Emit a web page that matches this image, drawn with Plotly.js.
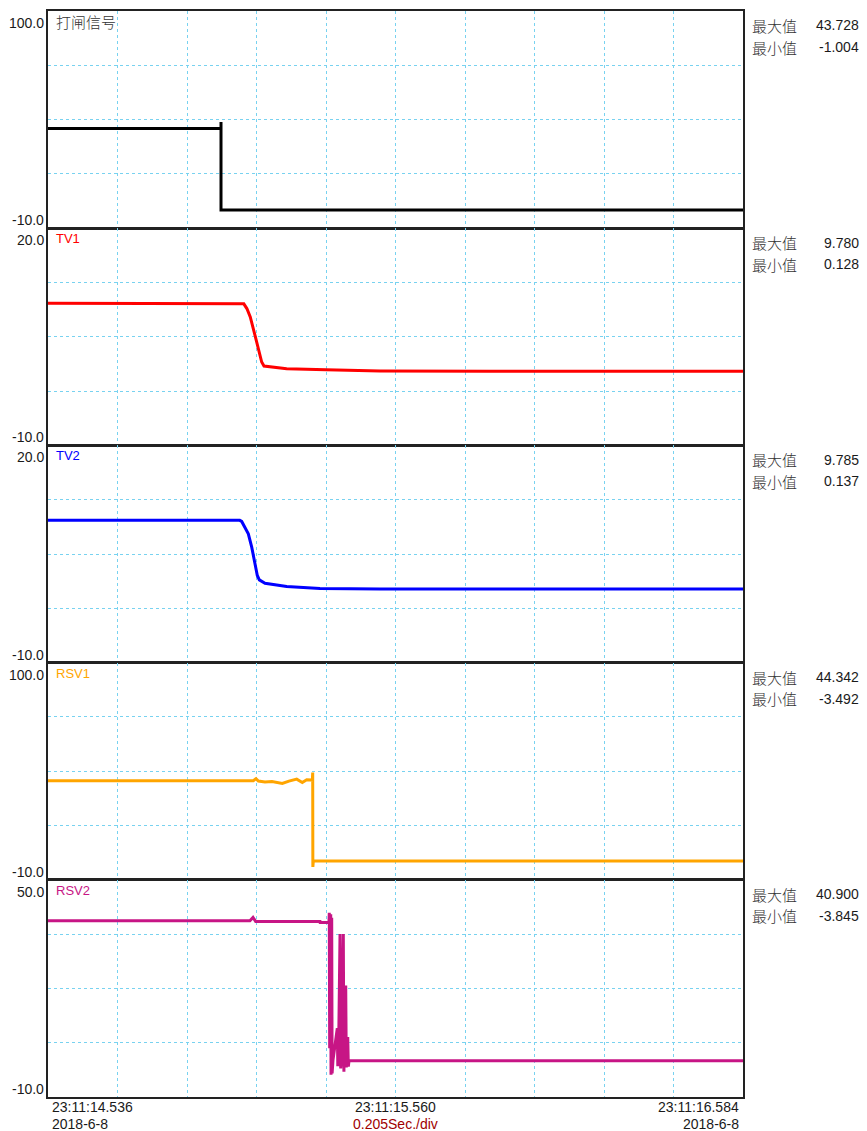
<!DOCTYPE html>
<html>
<head>
<meta charset="utf-8">
<script src="https://cdn.plot.ly/plotly-3.0.1.min.js"></script>
<style>html,body{margin:0;padding:0;background:#fff;}#chart{width:867px;height:1131px;}</style>
</head>
<body>
<div id="chart"></div>
<script>
// ---- data (time in seconds from 23:11:14.536) ----
const channelNames = ["打闸信号", "TV1", "TV2", "RSV1", "RSV2"];
const yMinVals = [-10, -10, -10, -10, -10];
const yMaxVals = [100, 20, 20, 100, 50];
const maxLabels = ["43.728", "9.780", "9.785", "44.342", "40.900"];
const minLabels = ["-1.004", "0.128", "0.137", "-3.492", "-3.845"];
const startTime = "23:11:14.536";
const midTime = "23:11:15.560";
const endTime = "23:11:16.584";
const dateLabel = "2018-6-8";
const divLabel = "0.205Sec./div";
const timeSpan = 2.048;

const tripT = [0, 0.5098, 0.5098, 0.5098, 2.048];
const tripV = [40.5, 40.5, 43.728, -0.8, -0.8];

const tv1T = [0, 0.5720, 0.5770, 0.5860, 0.5960, 0.6100, 0.6180, 0.6297, 0.6365, 0.6542, 0.7034, 0.8192, 0.9783, 1.3000, 2.048];
const tv1V = [9.65, 9.65, 9.55, 8.9, 7.74, 5.2, 3.59, 1.52, 0.96, 0.85, 0.6, 0.45, 0.28, 0.25, 0.24];

const tv2T = [0, 0.5650, 0.5708, 0.5903, 0.6003, 0.6100, 0.6168, 0.6227, 0.6395, 0.7034, 0.8015, 0.9783, 2.048];
const tv2V = [9.65, 9.65, 9.5, 7.79, 5.94, 3.87, 2.03, 1.43, 0.96, 0.51, 0.25, 0.18, 0.17];

const rsv1T = [0, 0.6050, 0.6129, 0.6200, 0.6394, 0.6600, 0.6904, 0.7100, 0.7329, 0.7494, 0.7623, 0.7741, 0.7790, 0.7800, 0.7805, 0.7812, 0.7818, 2.048];
const rsv1V = [40.2, 40.2, 41.2, 40.0, 39.5, 39.8, 38.8, 40.0, 41.0, 39.3, 40.7, 40.7, 40.5, 44.342, -3.492, 41.0, -0.5, -0.5];

const rsv2T = [0, 0.5950, 0.6041, 0.6120, 0.6250, 0.8015, 0.8020, 0.8280, 0.8289, 0.8300, 0.8331, 0.8340, 0.8360, 0.8372, 0.8398, 0.8525, 0.8540, 0.8560, 0.8605, 0.8625, 0.8650, 0.8702, 0.8720, 0.8737, 0.8773, 0.8790, 0.8802, 0.8832, 0.8850, 0.8870, 2.048];
const rsv2V = [38.7, 38.7, 39.6, 38.5, 38.5, 38.5, 38.2, 38.2, 40.9, 3.5, 40.5, -3.845, 39.5, -3.5, 0.2, 9.0, -1.5, 0.5, 35.0, -2.1, 1.0, 35.0, -3.0, 14.0, 20.8, -1.8, 0.5, 6.6, -1.6, 0.0, 0.0];

const seriesT = [tripT, tv1T, tv2T, rsv1T, rsv2T];
const seriesV = [tripV, tv1V, tv2V, rsv1V, rsv2V];
const colors = ["#000000", "#ff0000", "#0000ff", "#ffa500", "#c71585"];
const labelColors = ["#333333", "#ff0000", "#0000ff", "#ffa500", "#c71585"];

// ---- layout helpers ----
const W = 867, H = 1131, L = 48, R = 743, TOP = 11, BOT = 1097;
const px = x => (x - L) / (R - L);
const py = y => (BOT - y) / (BOT - TOP);
const panelH = (BOT - TOP) / 5;
const FONT = "Liberation Sans, Arial, Noto Sans CJK SC, sans-serif";
const CJK = "Noto Sans CJK SC, Liberation Sans, sans-serif";
const TXT = "#1a1a1a";

const xGrid = [];
for (let k = 0; k <= 10; k++) xGrid.push(timeSpan * k / 10);

const traces = [];
const layout = {
  width: W, height: H,
  margin: {l: L, r: W - R, t: TOP, b: H - BOT, pad: 0},
  paper_bgcolor: "#ffffff", plot_bgcolor: "#ffffff",
  showlegend: false,
  annotations: [],
  font: {family: FONT, size: 14, color: TXT}
};

function ann(x, y, text, anchor, font) {
  layout.annotations.push({xref: "paper", yref: "paper", x: px(x), y: py(y),
    xanchor: anchor, yanchor: "middle", text: text, showarrow: false, font: font});
}

for (let i = 0; i < 5; i++) {
  const n = i === 0 ? "" : String(i + 1);
  traces.push({
    x: seriesT[i], y: seriesV[i], mode: "lines",
    xaxis: "x" + n, yaxis: "y" + n,
    line: {color: colors[i], width: 3}, hoverinfo: "skip"
  });
  const lo = yMinVals[i], hi = yMaxVals[i];
  const yGrid = [0, 1, 2, 3, 4].map(k => lo + (hi - lo) * k / 4);
  const common = {
    showticklabels: false, ticks: "", showgrid: true,
    gridcolor: "#78d2f0", griddash: "dot", gridwidth: 1,
    showline: true, mirror: true, linecolor: "#222222", linewidth: 1.6,
    zeroline: false, fixedrange: true
  };
  layout["xaxis" + n] = Object.assign({}, common, {
    domain: [0, 1], anchor: "y" + n, range: [0, timeSpan], tickvals: xGrid
  });
  layout["yaxis" + n] = Object.assign({}, common, {
    domain: [1 - (i + 1) * 0.2, 1 - i * 0.2], anchor: "x" + n,
    range: [lo, hi], tickvals: yGrid
  });

  const top = TOP + i * panelH, bottom = TOP + (i + 1) * panelH;
  const f14 = {family: FONT, size: 14, color: TXT};
  const cjk = {family: CJK, size: 15, color: "#333333", weight: 300};
  ann(45.5, top + 12, hi.toFixed(1), "right", f14);
  ann(45.5, bottom - 8, lo.toFixed(1), "right", f14);
  ann(54, top + 10.5, channelNames[i], "left",
      i === 0 ? cjk : {family: FONT, size: 13, color: labelColors[i]});
  ann(750, top + 14.5, "最大值", "left", cjk);
  ann(750, top + 36, "最小值", "left", cjk);
  ann(861, top + 14.5, maxLabels[i], "right", f14);
  ann(861, top + 36, minLabels[i], "right", f14);
}

const f14 = {family: FONT, size: 14, color: TXT};
ann(50, 1107, startTime, "left", f14);
ann(50, 1124, dateLabel, "left", f14);
ann(395, 1107, midTime, "center", f14);
ann(395, 1124, divLabel, "center", {family: FONT, size: 14, color: "#a00000"});
ann(741, 1107, endTime, "right", f14);
ann(741, 1124, dateLabel, "right", f14);

Plotly.newPlot("chart", traces, layout, {staticPlot: true, displayModeBar: false});
</script>
</body>
</html>
